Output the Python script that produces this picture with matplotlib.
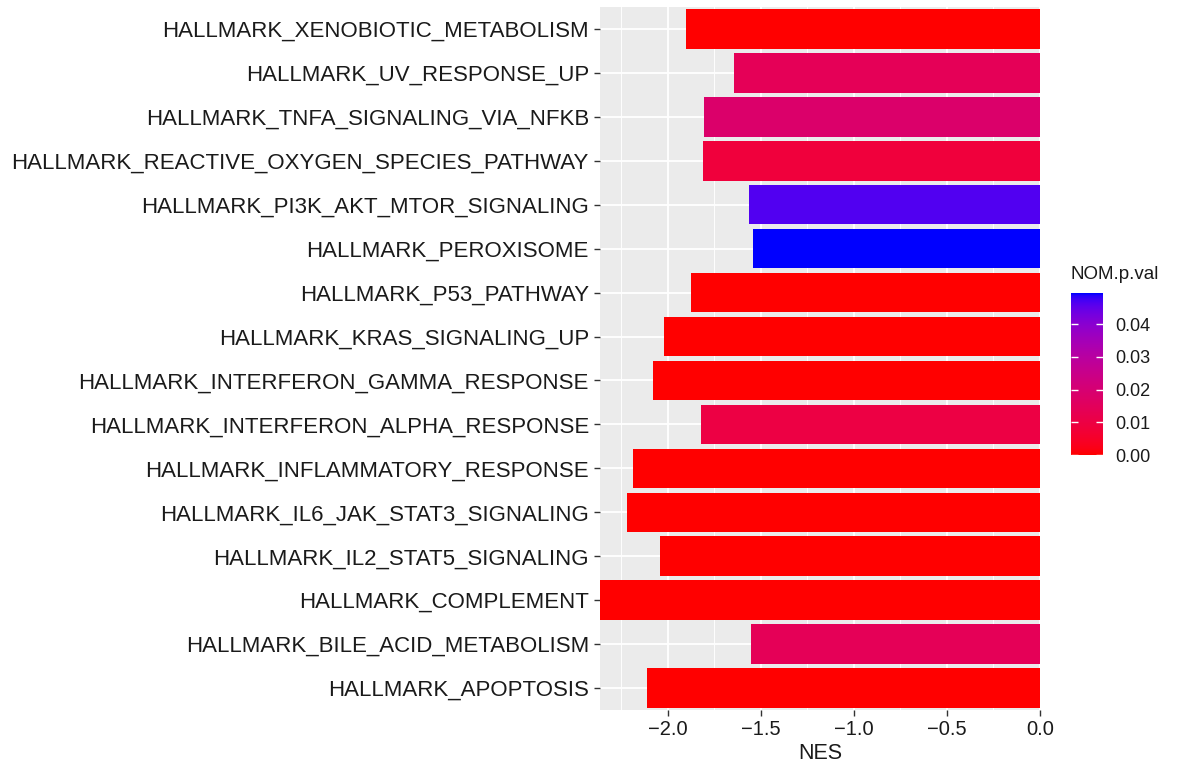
import numpy as np
import matplotlib
matplotlib.use("Agg")
import matplotlib.pyplot as plt
from matplotlib.colors import ListedColormap, Normalize

# ---------------- data ----------------
pathways = [
    "HALLMARK_APOPTOSIS",
    "HALLMARK_BILE_ACID_METABOLISM",
    "HALLMARK_COMPLEMENT",
    "HALLMARK_IL2_STAT5_SIGNALING",
    "HALLMARK_IL6_JAK_STAT3_SIGNALING",
    "HALLMARK_INFLAMMATORY_RESPONSE",
    "HALLMARK_INTERFERON_ALPHA_RESPONSE",
    "HALLMARK_INTERFERON_GAMMA_RESPONSE",
    "HALLMARK_KRAS_SIGNALING_UP",
    "HALLMARK_P53_PATHWAY",
    "HALLMARK_PEROXISOME",
    "HALLMARK_PI3K_AKT_MTOR_SIGNALING",
    "HALLMARK_REACTIVE_OXYGEN_SPECIES_PATHWAY",
    "HALLMARK_TNFA_SIGNALING_VIA_NFKB",
    "HALLMARK_UV_RESPONSE_UP",
    "HALLMARK_XENOBIOTIC_METABOLISM",
]
nes = [-2.113, -1.554, -2.365, -2.04, -2.22, -2.19, -1.82, -2.08,
       -2.02, -1.876, -1.543, -1.565, -1.81, -1.808, -1.647, -1.903]
pval = [0.0, 0.014, 0.0, 0.0, 0.0, 0.0, 0.010, 0.0,
        0.0, 0.0, 0.0495, 0.0465, 0.0085, 0.018, 0.014, 0.0]

x_ticks = [-2.0, -1.5, -1.0, -0.5, 0.0]
x_tick_labels = ["\u22122.0", "\u22121.5", "\u22121.0", "\u22120.5", "0.0"]
x_minor = [-2.25, -1.75, -1.25, -0.75, -0.25]
cbar_ticks = [0.00, 0.01, 0.02, 0.03, 0.04]
cbar_tick_labels = ["0.00", "0.01", "0.02", "0.03", "0.04"]

# ---------------- Lab gradient (ggplot scale_fill_gradient) ----------------
def srgb_to_lab(rgb):
    rgb = np.asarray(rgb, float)
    lin = np.where(rgb <= 0.04045, rgb / 12.92, ((rgb + 0.055) / 1.055) ** 2.4)
    M = np.array([[0.4124564, 0.3575761, 0.1804375],
                  [0.2126729, 0.7151522, 0.0721750],
                  [0.0193339, 0.1191920, 0.9503041]])
    xyz = M @ lin
    wp = np.array([0.95047, 1.0, 1.08883])
    t = xyz / wp
    f = np.where(t > (6 / 29) ** 3, np.cbrt(t), t / (3 * (6 / 29) ** 2) + 4 / 29)
    return np.array([116 * f[1] - 16, 500 * (f[0] - f[1]), 200 * (f[1] - f[2])])

def lab_to_srgb(lab):
    L, a, b = lab
    fy = (L + 16) / 116
    fx = fy + a / 500
    fz = fy - b / 200
    def finv(f):
        return np.where(f > 6 / 29, f ** 3, 3 * (6 / 29) ** 2 * (f - 4 / 29))
    wp = np.array([0.95047, 1.0, 1.08883])
    xyz = np.array([finv(fx), finv(fy), finv(fz)]) * wp
    Minv = np.array([[3.2404542, -1.5371385, -0.4985314],
                     [-0.9692660, 1.8760108, 0.0415560],
                     [0.0556434, -0.2040259, 1.0572252]])
    lin = Minv @ xyz
    lin = np.clip(lin, 0, 1)
    rgb = np.where(lin <= 0.0031308, 12.92 * lin, 1.055 * lin ** (1 / 2.4) - 0.055)
    return np.clip(rgb, 0, 1)

lab_lo = srgb_to_lab([1, 0, 0])
lab_hi = srgb_to_lab([0, 0, 1])
cols = [lab_to_srgb(lab_lo + (lab_hi - lab_lo) * t) for t in np.linspace(0, 1, 256)]
cmap = ListedColormap(cols)
norm = Normalize(vmin=min(pval), vmax=max(pval))

# ---------------- figure ----------------
plt.rcParams["font.family"] = ["Liberation Sans", "DejaVu Sans"]
fig = plt.figure(figsize=(11.83, 7.66), dpi=100)
ax = fig.add_axes([600 / 1183, 1 - 710 / 766, 440 / 1183, 703 / 766])
ax.set_facecolor("#EBEBEB")

ypos = np.arange(len(pathways))
ax.set_axisbelow(True)
ax.set_xticks(x_ticks)
ax.set_xticks(x_minor, minor=True)
ax.set_xticklabels(x_tick_labels)
ax.set_yticks(ypos)
ax.set_yticklabels(pathways)
ax.grid(which="major", axis="both", color="white", lw=1.3)
ax.grid(which="minor", axis="x", color="white", lw=0.65)

ax.barh(ypos, nes, height=0.9, color=cmap(norm(np.array(pval))), zorder=2)

ax.set_xlim(min(nes), 0)
ax.set_ylim(-0.5, len(pathways) - 0.5)
for s in ax.spines.values():
    s.set_visible(False)
ax.tick_params(axis="y", which="major", length=4, width=1.0, color="#333333",
               labelsize=16, labelcolor="#1a1a1a", pad=4)
ax.tick_params(axis="x", which="major", length=4, width=1.0, color="#333333",
               labelsize=14.5, labelcolor="#1a1a1a", pad=3)
ax.tick_params(axis="x", which="minor", length=0)
ax.set_xlabel("NES", fontsize=15.5, color="#1a1a1a", labelpad=3)

# ---------------- colorbar ----------------
cax = fig.add_axes([1071 / 1183, 1 - 455 / 766, 32 / 1183, 162 / 766])
grad = np.linspace(norm.vmin, norm.vmax, 300).reshape(-1, 1)
cax.imshow(grad, aspect="auto", cmap=cmap, norm=norm, origin="lower",
           extent=[0, 1, norm.vmin, norm.vmax])
cax.set_xlim(0, 1)
cax.set_ylim(norm.vmin, norm.vmax)
cax.set_xticks([])
cax.set_yticks(cbar_ticks)
cax.set_yticklabels(cbar_tick_labels)
cax.tick_params(axis="y", direction="in", left=True, right=True, labelleft=False,
                labelright=True, color="white", length=5, width=1.0,
                labelsize=13, labelcolor="#1a1a1a", pad=9)
for s in cax.spines.values():
    s.set_visible(False)
fig.text(1071 / 1183, 1 - 279 / 766, "NOM.p.val", fontsize=13.5, color="#1a1a1a",
         ha="left", va="baseline")

fig.savefig("out.png", dpi=100)
